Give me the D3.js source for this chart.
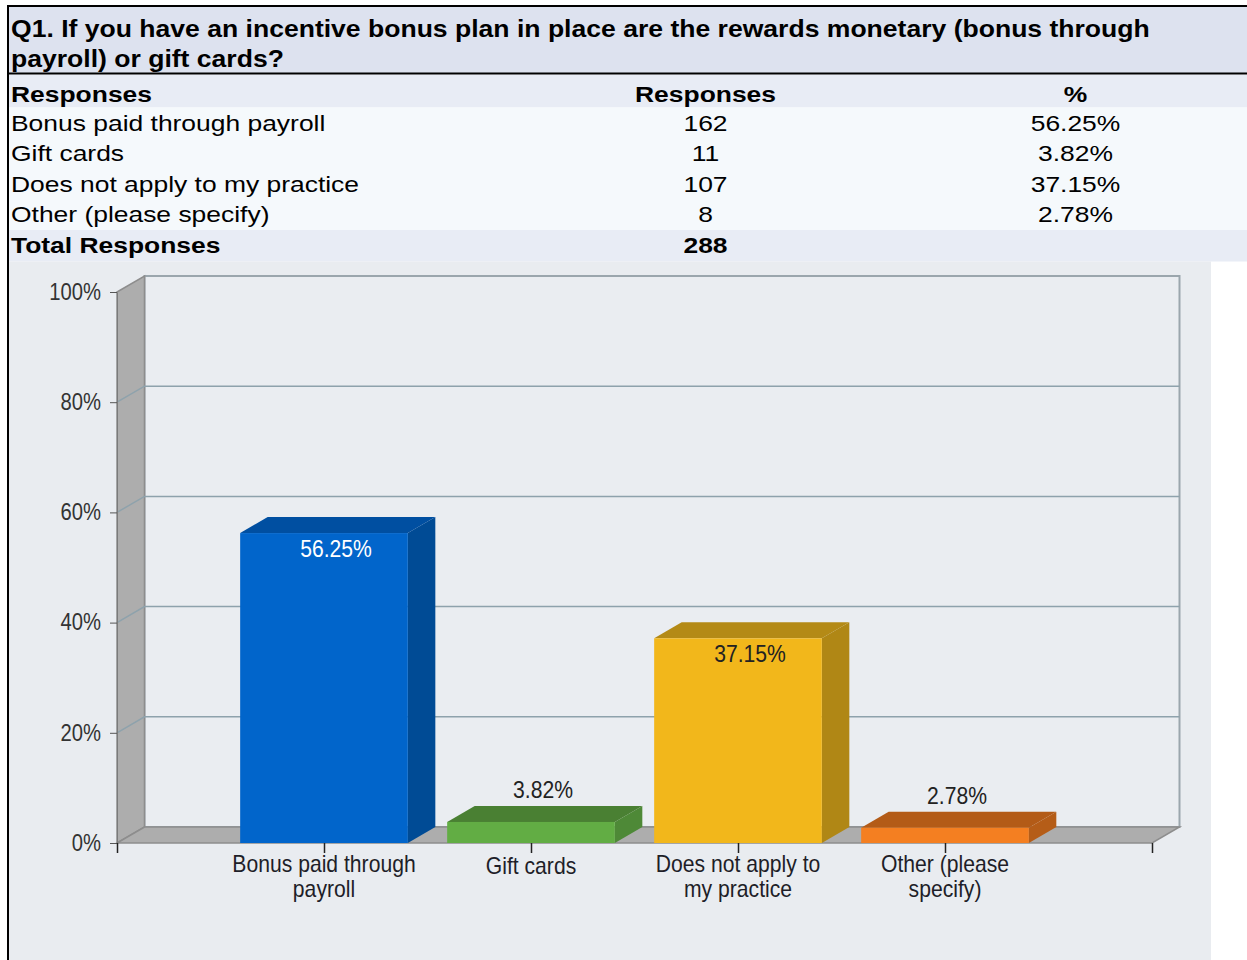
<!DOCTYPE html>
<html>
<head>
<meta charset="utf-8">
<script src="https://cdn.jsdelivr.net/npm/d3@7"></script>
<style>
  body { margin: 0; background: #ffffff; }
  svg { display: block; font-family: "Liberation Sans", Arial, sans-serif; }
</style>
</head>
<body>
<script>
// survey data
const titleLines = [
  'Q1. If you have an incentive bonus plan in place are the rewards monetary (bonus through',
  'payroll) or gift cards?'
];
const tableHeader = ['Responses', 'Responses', '%'];
const categories = ['Bonus paid through payroll', 'Gift cards', 'Does not apply to my practice', 'Other (please specify)'];
const responses = [162, 11, 107, 8];
const percents = [56.25, 3.82, 37.15, 2.78];
const totalLabel = 'Total Responses';
const totalResponses = 288;

// chart labels
const axisLabels = [['Bonus paid through', 'payroll'], ['Gift cards'], ['Does not apply to', 'my practice'], ['Other (please', 'specify)']];
const yTicks = [0, 20, 40, 60, 80, 100];

const frontColors = ['#0165cb', '#62ad44', '#f2b71b', '#f47f21'];
const topColors = ['#004fa1', '#4a8033', '#b48a16', '#b35b17'];
const sideColors = ['#004b95', '#4e8937', '#b08715', '#b55d18'];
const valueColors = ['#ffffff', '#222222', '#222222', '#222222'];

const W = 1247, H = 960;
const svg = d3.select('body').append('svg').attr('width', W).attr('height', H);

// ---- table part ----
svg.append('rect').attr('x', 9).attr('y', 7).attr('width', W - 9).attr('height', 66).attr('fill', '#dde2ef');
svg.append('rect').attr('x', 9).attr('y', 74.5).attr('width', W - 9).attr('height', 33).attr('fill', '#e8ecf5');
svg.append('rect').attr('x', 9).attr('y', 107.5).attr('width', W - 9).attr('height', 122.5).attr('fill', '#f5f9fc');
svg.append('rect').attr('x', 9).attr('y', 230).attr('width', W - 9).attr('height', 31.5).attr('fill', '#e8ecf5');
svg.append('rect').attr('x', 9).attr('y', 261.5).attr('width', 1202).attr('height', H - 261.5).attr('fill', '#e9ecf0');

svg.append('rect').attr('x', 7).attr('y', 5).attr('width', W - 7).attr('height', 2).attr('fill', '#000');
svg.append('rect').attr('x', 7).attr('y', 5).attr('width', 2).attr('height', H - 5).attr('fill', '#000');
svg.append('rect').attr('x', 9).attr('y', 72.5).attr('width', W - 9).attr('height', 2).attr('fill', '#000');

// text in the original is drawn with a wider / narrower face, so scale it horizontally
function scaledText(g, x, y, str, size, weight, anchor, sx, fill) {
  return g.append('text')
    .attr('transform', `translate(${x},${y}) scale(${sx},1)`)
    .attr('text-anchor', anchor)
    .style('font-size', size + 'px')
    .style('font-weight', weight)
    .attr('fill', fill || '#000')
    .text(str);
}

const table = svg.append('g');
titleLines.forEach((t, i) => scaledText(table, 11, 37 + i * 30, t, 23, 'bold', 'start', 1.155));

const colX = [11, 705.5, 1075.5];
const anchors = ['start', 'middle', 'middle'];
const tableSize = 22.5, tableSx = 1.175;

tableHeader.forEach((h, j) => scaledText(table, colX[j], 101.5, h, tableSize, 'bold', anchors[j], tableSx));

categories.forEach((c, i) => {
  const yy = 131 + i * 30.3;
  scaledText(table, colX[0], yy, c, tableSize, 'normal', 'start', tableSx);
  scaledText(table, colX[1], yy, String(responses[i]), tableSize, 'normal', 'middle', tableSx);
  scaledText(table, colX[2], yy, percents[i].toFixed(2) + '%', tableSize, 'normal', 'middle', tableSx);
});
scaledText(table, colX[0], 253, totalLabel, tableSize, 'bold', 'start', tableSx);
scaledText(table, colX[1], 253, String(totalResponses), tableSize, 'bold', 'middle', tableSx);

// ---- 3d bar chart ----
const x = d3.scaleLinear().domain([0, categories.length + 1]).range([117, 1152]);
const y = d3.scaleLinear().domain([0, 100]).range([843, 292]);
const dx = 27.5, dy = -16;
const barHalf = (x(1) - x(0)) * 0.405;
const chartSize = 23, chartSx = 0.92;

const chart = svg.append('g');

// back wall
const x0 = x.range()[0], xEnd = x.range()[1];
chart.append('rect')
  .attr('x', x0 + dx).attr('y', y(100) + dy)
  .attr('width', xEnd - x0).attr('height', y(0) - y(100))
  .attr('fill', '#eaedf1').attr('stroke', '#9ba6ad').attr('stroke-width', 2);

// left wall
chart.append('polygon')
  .attr('points', [[x0, y(0)], [x0, y(100)], [x0 + dx, y(100) + dy], [x0 + dx, y(0) + dy]].join(' '))
  .attr('fill', '#adadad').attr('stroke', '#8d8d8d').attr('stroke-width', 1.5);

// floor
chart.append('polygon')
  .attr('points', [[x0, y(0)], [xEnd, y(0)], [xEnd + dx, y(0) + dy], [x0 + dx, y(0) + dy]].join(' '))
  .attr('fill', '#adadad').attr('stroke', '#8d8d8d').attr('stroke-width', 1.5);

// gridlines on back and left walls
chart.selectAll('.grid')
  .data(yTicks.filter(t => t > 0 && t < 100))
  .enter().append('polyline')
  .attr('class', 'grid')
  .attr('points', d => [[x0, y(d)], [x0 + dx, y(d) + dy], [xEnd + dx, y(d) + dy]].join(' '))
  .attr('fill', 'none').attr('stroke', '#8ea2ac').attr('stroke-width', 1.5);

// y axis
const yAxis = chart.append('g')
  .attr('transform', `translate(${x0},0)`)
  .call(d3.axisLeft(y).tickValues(yTicks).tickFormat(d => d + '%').tickSize(7).tickPadding(9).tickSizeOuter(0));
yAxis.select('.domain').attr('stroke', '#7a7a7a');
yAxis.selectAll('.tick line').attr('stroke', '#555');
yAxis.selectAll('.tick text')
  .attr('fill', '#333')
  .attr('x', -16 / 0.88)
  .attr('transform', 'scale(0.88,1)')
  .style('font-family', '"Liberation Sans", Arial, sans-serif')
  .style('font-size', '23px');

// x axis ticks
const xAxis = chart.append('g')
  .attr('transform', `translate(0,${y(0)})`)
  .call(d3.axisBottom(x).tickValues(d3.range(0, categories.length + 2)).tickFormat('').tickSize(10));
xAxis.select('.domain').remove();
xAxis.selectAll('.tick line').attr('stroke', '#222').attr('stroke-width', 1.5);

// bars
const bars = chart.selectAll('.bar')
  .data(percents)
  .enter().append('g')
  .attr('class', 'bar');

bars.append('polygon')
  .attr('points', (d, i) => {
    const r = x(i + 1) + barHalf;
    return [[r, y(0)], [r, y(d)], [r + dx, y(d) + dy], [r + dx, y(0) + dy]].join(' ');
  })
  .attr('fill', (d, i) => sideColors[i]);

bars.append('polygon')
  .attr('points', (d, i) => {
    const l = x(i + 1) - barHalf, r = x(i + 1) + barHalf;
    return [[l, y(d)], [r, y(d)], [r + dx, y(d) + dy], [l + dx, y(d) + dy]].join(' ');
  })
  .attr('fill', (d, i) => topColors[i]);

bars.append('rect')
  .attr('x', (d, i) => x(i + 1) - barHalf)
  .attr('y', d => y(d))
  .attr('width', barHalf * 2)
  .attr('height', d => y(0) - y(d))
  .attr('fill', (d, i) => frontColors[i]);

bars.each(function (d, i) {
  const inside = d >= 10;
  scaledText(d3.select(this), x(i + 1) + 12, inside ? y(d) + 24 : y(d) + dy - 8,
    d.toFixed(2) + '%', chartSize, 'normal', 'middle', chartSx, inside ? valueColors[i] : '#222');
});

// category labels
axisLabels.forEach((lines, i) => {
  lines.forEach((ln, k) => {
    scaledText(chart, x(i + 1), (lines.length > 1 ? 872 : 874) + k * 25, ln,
      chartSize, 'normal', 'middle', chartSx, '#1e1e28');
  });
});
</script>
</body>
</html>
